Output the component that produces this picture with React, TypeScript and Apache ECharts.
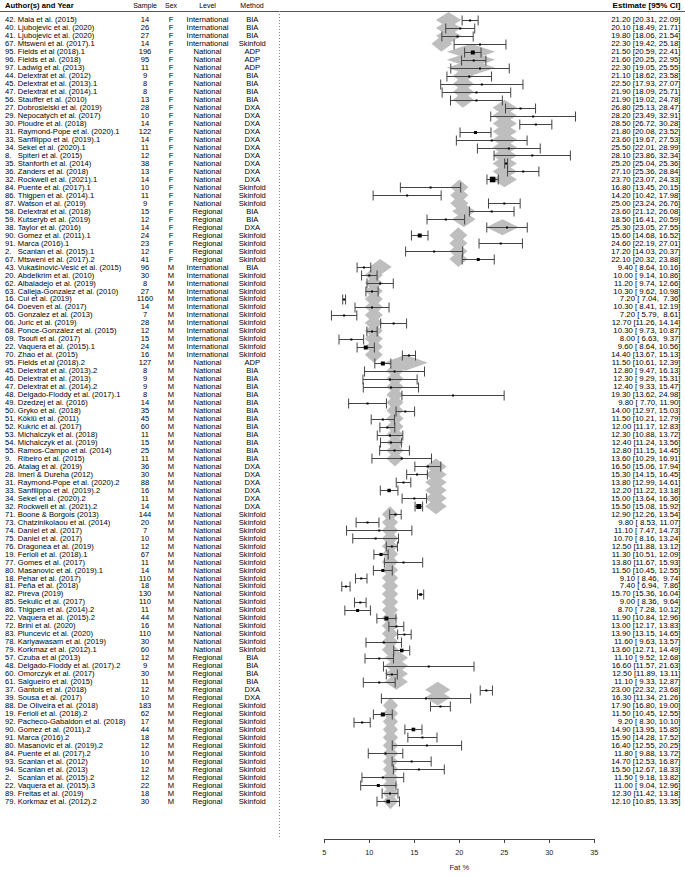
import React, { useEffect, useRef } from "react";
import * as echarts from "echarts";

// ---------- DATA ----------
const studyIds = [42,40,41,67,95,96,97,44,45,47,56,27,29,30,31,33,34,8,35,36,32,84,86,87,58,59,38,90,91,2,67,
  43,20,62,63,16,64,65,66,68,69,22,70,95,45,46,47,48,49,50,51,52,53,54,55,9,26,28,31,33,34,32,
  71,73,74,75,76,19,77,80,18,81,82,85,86,22,72,83,78,79,57,48,60,61,37,39,88,19,92,90,91,80,84,93,94,2,22,89,79];

const studyNames = [
  "Mala et al. (2015)", "Ljubojevic et al. (2020)", "Ljubojevic et al. (2020)", "Mtsweni et al. (2017).1",
  "Fields et al (2018).1", "Fields et al. (2018)", "Ladwig et al. (2013)", "Delextrat et al. (2012)",
  "Delextrat et al. (2013).1", "Delextrat et al. (2014).1", "Stauffer et al. (2010)", "Dobrosielski et al. (2019)",
  "Nepocatych et al. (2017)", "Ploudre et al. (2018)", "Raymond-Pope et al. (2020).1", "Sanfilippo et al. (2019).1",
  "Sekel et al. (2020).1", "Spiteri et al. (2015)", "Stanforth et al. (2014)", "Zanders et al. (2018)",
  "Rockwell et al. (2021).1", "Puente et al. (2017).1", "Thigpen et al. (2014).1", "Watson et al. (2019)",
  "Delextrat et al. (2018)", "Kutseryb et al. (2019)", "Taylor et al. (2016)", "Gomez et al. (2011).1",
  "Marca (2016).1", "Scanlan et al. (2015).1", "Mtsweni et al. (2017).2",
  "Vukašinović-Vesić et al. (2015)", "Abdelkrim et al. (2010)", "Albaladejo et al. (2019)",
  "Calleja-Gonzalez et al. (2010)", "Cui et al. (2019)", "Doeven et al. (2017)", "Gonzalez et al. (2013)",
  "Juric et al. (2019)", "Ponce-González et al. (2015)", "Tsoufi et al. (2017)", "Vaquera et al. (2015).1",
  "Zhao et al. (2015)", "Fields et al (2018).2", "Delextrat et al. (2013).2", "Delextrat et al. (2013)",
  "Delextrat et al. (2014).2", "Delgado-Floddy et al. (2017).1", "Dzedzej et al. (2016)", "Gryko et al. (2018)",
  "Köklü et al. (2011)", "Kukrić et al. (2017)", "Michalczyk et al. (2018)", "Michalczyk et al. (2019)",
  "Ramos-Campo et al. (2014)", "Ribeiro et al. (2015)", "Atalag et al. (2019)", "Imeri & Dureha (2012)",
  "Raymond-Pope et al. (2020).2", "Sanfilippo et al. (2019).2", "Sekel et al. (2020).2", "Rockwell et al. (2021).2",
  "Boone & Borgois (2013)", "Chatzinikolaou et al. (2014)", "Daniel et al. (2017)", "Daniel et al. (2017)",
  "Dragonea et al. (2019)", "Ferioli et al. (2018).1", "Gomes et al. (2017)", "Masanovic et al. (2019).1",
  "Pehar et al. (2017)", "Peña et al. (2018)", "Pireva (2019)", "Sekulic et al. (2017)",
  "Thigpen et al. (2014).2", "Vaquera et al. (2015).2", "Brini et al. (2020)", "Pluncevic et al. (2020)",
  "Kariyawasam et al. (2019)", "Korkmaz et al. (2012).1", "Czuba et al (2013)", "Delgado-Floddy et al. (2017).2",
  "Omorczyk et al. (2017)", "Salgueiro et al. (2015)", "Gantois et al. (2018)", "Sousa et al. (2017)",
  "De Oliveira et al. (2018)", "Ferioli et al. (2018).2", "Pacheco-Gabaldon et al. (2018)", "Gomez et al. (2011).2",
  "Marca (2016).2", "Masanovic et al. (2019).2", "Puente et al. (2017).2", "Scanlan et al. (2012)",
  "Scanlan et al. (2013)", "Scanlan et al. (2015).2", "Vaquera et al. (2015).3", "Freitas et al. (2019)",
  "Korkmaz et al. (2012).2"
];

const sampleSizes = [14,26,27,14,196,95,11,9,8,8,13,28,10,14,122,14,11,12,38,13,14,10,11,9,15,12,14,24,23,12,41,
  96,30,8,27,1160,14,7,28,12,15,24,16,127,8,9,9,8,14,35,45,60,11,15,25,11,36,30,88,16,11,14,
  144,20,7,10,12,67,11,14,110,18,130,110,11,44,16,110,30,60,12,9,30,11,12,10,183,62,17,44,18,12,10,10,12,12,22,18,30];

const estimates = [21.2,20.1,19.8,22.3,21.5,21.6,22.3,21.1,22.5,21.9,21.9,26.8,28.2,28.5,21.8,23.6,25.5,28.1,25.2,27.1,23.7,16.8,14.2,25.0,23.6,18.5,25.3,15.6,24.6,17.2,22.1,
  9.4,10.0,11.2,10.3,7.2,10.3,7.2,12.7,10.3,8.0,9.6,14.4,11.5,12.8,12.3,12.4,19.3,9.8,14.0,11.5,12.0,12.3,12.4,12.8,13.6,
  16.5,15.3,13.8,12.2,15.0,15.5,12.9,9.8,11.1,10.7,12.5,11.3,13.8,11.5,9.1,7.4,15.7,9.0,8.7,11.9,13.0,13.9,11.6,13.6,
  11.1,16.6,12.5,11.1,23.0,16.3,17.9,11.5,9.2,14.9,15.9,16.4,11.8,14.7,15.5,11.5,11.0,12.3,12.1];

const ciLower = [20.31,18.49,18.06,19.42,20.59,20.25,19.05,18.62,17.93,18.09,19.02,25.13,23.49,26.72,20.08,19.67,22.01,23.86,25.04,25.36,23.07,13.45,10.42,23.24,21.12,16.41,23.05,14.68,22.19,14.03,20.32,
  8.64,9.14,9.74,9.62,7.04,8.41,5.79,11.26,9.73,6.63,8.64,13.67,10.61,9.47,9.29,9.33,13.62,7.70,12.97,10.21,11.17,10.88,11.24,11.15,10.29,
  15.06,14.15,12.99,11.22,13.64,15.08,12.26,8.53,7.47,8.16,11.88,10.51,11.67,10.45,8.46,6.94,15.36,8.36,7.28,10.84,12.17,13.15,9.63,12.71,
  9.52,11.57,11.89,9.33,22.32,11.34,16.80,10.45,8.30,13.95,14.28,12.55,9.88,12.53,12.67,9.18,9.04,11.42,10.85];

const ciUpper = [22.09,21.71,21.54,25.18,22.41,22.95,25.55,23.58,27.07,25.71,24.78,28.47,32.91,30.28,23.52,27.53,28.99,32.34,25.36,28.84,24.33,20.15,17.98,26.76,26.08,20.59,27.55,16.52,27.01,20.37,23.88,
  10.16,10.86,12.66,10.98,7.36,12.19,8.61,14.14,10.87,9.37,10.56,15.13,12.39,16.13,15.31,15.47,24.98,11.90,15.03,12.79,12.83,13.72,13.56,14.45,16.91,
  17.94,16.45,14.61,13.18,16.36,15.92,13.54,11.07,14.73,13.24,13.12,12.09,15.93,12.55,9.74,7.86,16.04,9.64,10.12,12.96,13.83,14.65,13.57,14.49,
  12.68,21.63,13.11,12.87,23.68,21.26,19.00,12.55,10.10,15.85,17.52,20.25,13.72,16.87,18.33,13.82,12.96,13.18,13.35];

// relative study weights (square size)
const weights = [1,1,1,1,2,1,1,1,1,1, 1,1,1,1,1.5,1,1,1,1,1, 2.8,1,1,1,1,1,1,2,1,1,
  1.5,1,1,1,1,1,1,1,1,1, 1,2,1,2,1,1,1,1,1,1, 1,1,1,1,1,1,1,1,1,1.7,
  1,2.5,1,1,1,1,1,1.6,1,1.5, 1,1,1.3,1,1.5,2,1,1,1,1.8, 1,1,1,1,1,1,1,2,1,1.8,
  1,1,1,1,1,1,1.5,1,1.8];

// moderator subgroups (in row order) with fitted values of the meta-regression
const groupSex = ["F","F","F","F","F","F","F","F","F","M","M","M","M","M","M","M","M","M"];
const groupLevel = ["International","International","National","National","National","National","Regional","Regional","Regional",
  "International","International","National","National","National","National","Regional","Regional","Regional"];
const groupMethod = ["BIA","Skinfold","ADP","BIA","DXA","Skinfold","BIA","DXA","Skinfold",
  "BIA","Skinfold","ADP","BIA","DXA","Skinfold","BIA","DXA","Skinfold"];
const groupCount = [3,1,3,4,10,3,2,1,4,1,11,1,12,6,18,4,2,13];
const groupFit = [18.8,18.0,21.3,20.4,25.0,20.0,20.5,24.8,19.9,11.2,10.5,14.0,12.85,17.4,12.3,13.0,17.6,12.35];
const groupFitLo = [17.4,16.9,18.6,19.3,23.7,19.0,19.2,23.0,18.9,10.0,9.5,11.6,11.9,16.2,11.4,11.7,16.2,11.5];
const groupFitHi = [20.2,19.2,24.0,21.6,26.4,21.0,21.8,26.6,20.9,12.5,11.5,16.5,13.8,18.6,13.2,14.3,19.0,13.2];

const refValue = 0;

// ---------- HELPERS ----------
type Row = { r: number; sex: string; level: string; method: string; fit: number; fitLo: number; fitHi: number };
const rows: Row[] = [];
{
  let r = 0;
  groupSex.forEach((sex, g) => {
    for (let k = 0; k < groupCount[g]; k++) {
      rows.push({ r, sex, level: groupLevel[g], method: groupMethod[g], fit: groupFit[g], fitLo: groupFitLo[g], fitHi: groupFitHi[g] });
      r++;
    }
  });
}
const fmt = (v: number) => (v < 10 ? " " : "") + v.toFixed(2);
const estText = (i: number) => `${estimates[i].toFixed(2)} [${fmt(ciLower[i])}, ${fmt(ciUpper[i])}]`;

const FONT = '"Liberation Sans", Arial, Helvetica, sans-serif';
const bodyFont = `7.6px ${FONT}`;

export default function App() {
  const ref = useRef<HTMLDivElement>(null);
  useEffect(() => {
    const chart = echarts.init(ref.current!, null, { renderer: "svg" });
    const rowPx = 8.0206;
    const yMin = -9 / rowPx; // header line 9px above first row
    const yMax = (844 - 20) / rowPx;

    const option: any = {
      animation: false,
      grid: { left: 324.33, right: 685 - 594.33, top: 11, bottom: 876 - 844, containLabel: false },
      xAxis: {
        type: "value",
        min: 5,
        max: 35,
        interval: 5,
        splitLine: { show: false },
        axisLine: { show: true, onZero: false, lineStyle: { color: "#444", width: 1 } },
        axisTick: { show: true, inside: false, length: 4, lineStyle: { color: "#444" } },
        axisLabel: { color: "#222", fontSize: 7.3, fontFamily: FONT, margin: 10 },
        name: "Fat %",
        nameLocation: "middle",
        nameGap: 24,
        nameTextStyle: { color: "#222", fontSize: 7.5, fontFamily: FONT },
      },
      yAxis: { type: "value", inverse: true, min: yMin, max: yMax, show: false, axisLine: { onZero: false } },
      graphic: [
        { type: "line", shape: { x1: 0, y1: 11.5, x2: 685, y2: 11.5 }, style: { stroke: "#555", lineWidth: 1 } },
        { type: "text", x: 5, y: 5, style: { text: "Author(s) and Year", font: `bold 7.7px ${FONT}`, fill: "#000", textAlign: "left", textVerticalAlign: "middle" } },
        { type: "text", x: 145, y: 5, style: { text: "Sample", font: `7px ${FONT}`, fill: "#000", textAlign: "center", textVerticalAlign: "middle" } },
        { type: "text", x: 171, y: 5, style: { text: "Sex", font: `7px ${FONT}`, fill: "#000", textAlign: "center", textVerticalAlign: "middle" } },
        { type: "text", x: 207.5, y: 5, style: { text: "Level", font: `7px ${FONT}`, fill: "#000", textAlign: "center", textVerticalAlign: "middle" } },
        { type: "text", x: 252, y: 5, style: { text: "Method", font: `7px ${FONT}`, fill: "#000", textAlign: "center", textVerticalAlign: "middle" } },
        { type: "text", x: 680.5, y: 5, style: { text: "Estimate [95% CI]", font: `bold 8.1px ${FONT}`, fill: "#000", textAlign: "right", textVerticalAlign: "middle" } },
      ],
      series: [
        {
          // dotted reference line at 0 spanning the rows area
          type: "custom",
          clip: false,
          silent: true,
          data: [[refValue, yMin, yMax]],
          encode: { x: 0, y: [1, 2] },
          renderItem: (_p: any, api: any) => {
            const p1 = api.coord([api.value(0), api.value(1)]);
            const p2 = api.coord([api.value(0), api.value(2)]);
            const x = Math.round(p1[0]) + 0.5;
            return {
              type: "line",
              shape: { x1: x, y1: p1[1], x2: x, y2: p2[1] },
              style: { stroke: "#888", lineWidth: 1, lineDash: [1, 2] },
            };
          },
          z: 1,
        },
        {
          // fitted values polygons
          type: "custom",
          clip: false,
          silent: true,
          data: rows.map((row) => [row.r, row.fit, row.fitLo, row.fitHi]),
          encode: { x: [1, 2, 3], y: 0 },
          renderItem: (_p: any, api: any) => {
            const r = api.value(0), f = api.value(1), lo = api.value(2), hi = api.value(3);
            const pts = [api.coord([lo, r]), api.coord([f, r - 1]), api.coord([hi, r]), api.coord([f, r + 1])];
            return { type: "polygon", shape: { points: pts }, style: { fill: "#bebebe" } };
          },
          z: 2,
        },
        {
          // observed estimates with CI
          type: "custom",
          clip: false,
          silent: true,
          data: rows.map((row, i) => [row.r, estimates[i], ciLower[i], ciUpper[i], weights[i]]),
          encode: { x: [1, 2, 3], y: 0 },
          renderItem: (_p: any, api: any) => {
            const r = api.value(0), e = api.value(1), lo = api.value(2), hi = api.value(3), w = api.value(4);
            const pl = api.coord([lo, r]);
            const ph = api.coord([hi, r]);
            const pe = api.coord([e, r]);
            const y = Math.round(pl[1]) + 0.5;
            const s = 2 * w;
            const ls = { stroke: "#444", lineWidth: 1 };
            return {
              type: "group",
              children: [
                { type: "line", shape: { x1: pl[0], y1: y, x2: ph[0], y2: y }, style: ls },
                { type: "line", shape: { x1: pl[0], y1: y - 5, x2: pl[0], y2: y + 5 }, style: ls },
                { type: "line", shape: { x1: ph[0], y1: y - 5, x2: ph[0], y2: y + 5 }, style: ls },
                { type: "rect", shape: { x: pe[0] - s / 2, y: y - s / 2, width: s, height: s }, style: { fill: "#000" } },
              ],
            };
          },
          z: 3,
        },
        {
          // table text
          type: "custom",
          clip: false,
          silent: true,
          data: rows.map((row) => [row.r, 5]),
          encode: { x: 1, y: 0 },
          renderItem: (_p: any, api: any) => {
            const i = api.value(0);
            const row = rows[i];
            const y = api.coord([5, i])[1];
            const t = (text: string, x: number, align: string, font = bodyFont) => ({
              type: "text",
              x,
              y,
              style: { text, font, fill: "#000", textAlign: align, textVerticalAlign: "middle" },
            });
            return {
              type: "group",
              children: [
                t(`${studyIds[i]}.`, 5, "left"),
                t(studyNames[i], 17.8, "left"),
                t(String(sampleSizes[i]), 145, "center"),
                t(row.sex, 171, "center"),
                t(row.level, 207.5, "center"),
                t(row.method, 252.3, "center"),
                t(estText(i), 680.5, "right", `7.8px ${FONT}`),
              ],
            };
          },
          z: 4,
        },
      ],
    };
    chart.setOption(option);
    return () => chart.dispose();
  }, []);
  return <div ref={ref} style={{ position: "absolute", left: 0, top: 0, width: 685, height: 876 }} />;
}
